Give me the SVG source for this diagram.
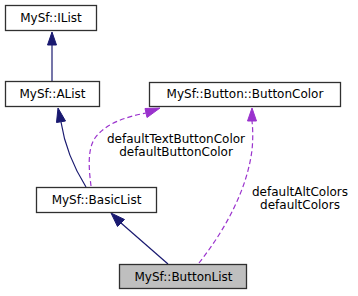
<svg xmlns="http://www.w3.org/2000/svg" width="358" height="296" viewBox="0 0 358 296">
<style>
  .box { fill: #ffffff; stroke: #303030; stroke-width: 1.3; }
  .cur { fill: #bfbfbf; stroke: #303030; stroke-width: 1.3; }
  text { font-family: "DejaVu Sans", "Liberation Sans", sans-serif; font-size: 12px; fill: #000000; }
  .inh { fill: none; stroke: #191970; stroke-width: 1.2; }
  .inhHead { fill: #191970; stroke: #191970; }
  .use { fill: none; stroke: #9a32cd; stroke-width: 1.2; stroke-dasharray: 5,3; }
  .useHead { fill: #9a32cd; stroke: #9a32cd; }
</style>
<rect width="358" height="296" fill="#ffffff"/>

<g id="edges">
  <!-- AList -> IList -->
  <path class="inh" d="M52,81 L52,45"/>
  <polygon class="inhHead" points="47.5,45 56.5,45 52,32"/>
  <!-- BasicList -> AList -->
  <path class="inh" d="M86,187 C76,171 65,148 61,122"/>
  <polygon class="inhHead" points="56.5,122.5 65.5,121 58,108"/>
  <!-- ButtonList -> BasicList -->
  <path class="inh" d="M168,264 L121,223"/>
  <polygon class="inhHead" points="117.5,226.5 124.5,219.5 111,213"/>
  <!-- BasicList -> ButtonColor -->
  <path class="use" d="M91,186 C89,170 87,150 95,138 C106,123 126,117 146,113"/>
  <polygon class="useHead" points="145,108.5 147,117.5 160,108"/>
  <!-- ButtonList -> ButtonColor -->
  <path class="use" d="M199,263 C225,230 247,190 252,150 C253,140 253,130 252,121"/>
  <polygon class="useHead" points="247.5,121 256.5,121 252,108"/>
</g>
<g id="edge-labels">
  <text x="176" y="143" text-anchor="middle">defaultTextButtonColor</text>
  <text x="176" y="156" text-anchor="middle">defaultButtonColor</text>
  <text x="300" y="196" text-anchor="middle">defaultAltColors</text>
  <text x="300" y="209" text-anchor="middle">defaultColors</text>
</g>

<g id="node-ilist">
  <rect class="box" x="5.5" y="5.5" width="91" height="25"/>
  <text x="51" y="22" text-anchor="middle">MySf::IList</text>
</g>
<g id="node-alist">
  <rect class="box" x="5.5" y="81.5" width="94" height="25"/>
  <text x="52.5" y="98" text-anchor="middle">MySf::AList</text>
</g>
<g id="node-buttoncolor">
  <rect class="box" x="149.5" y="82.5" width="191" height="24"/>
  <text x="245" y="98" text-anchor="middle">MySf::Button::ButtonColor</text>
</g>
<g id="node-basiclist">
  <rect class="box" x="36.5" y="187.5" width="120" height="25"/>
  <text x="96.5" y="204" text-anchor="middle">MySf::BasicList</text>
</g>
<g id="node-buttonlist">
  <rect class="cur" x="119.5" y="264.5" width="127" height="24"/>
  <text x="183.5" y="281" text-anchor="middle">MySf::ButtonList</text>
</g>
</svg>
